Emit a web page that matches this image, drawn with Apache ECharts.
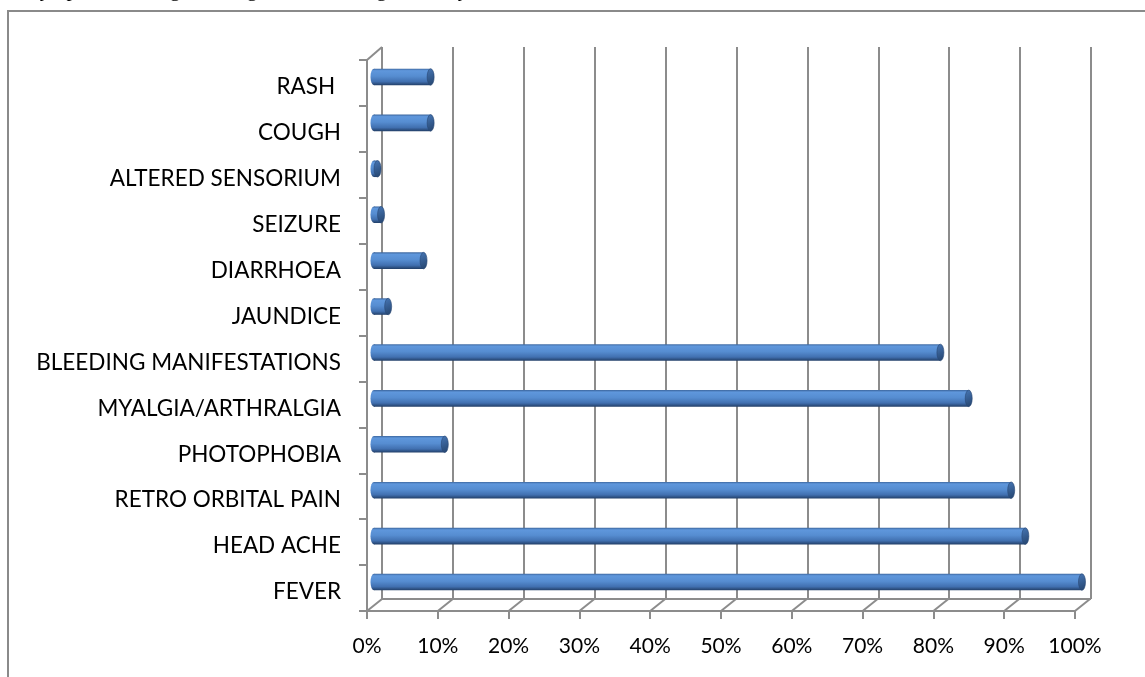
<!DOCTYPE html>
<html>
<head>
<meta charset="utf-8">
<script src="https://cdn.jsdelivr.net/npm/echarts@6/dist/echarts.min.js"></script>
<style>
html,body{margin:0;padding:0;background:#fff;}
#chart{width:1145px;height:677px;}
</style>
</head>
<body>
<div id="chart"></div>
<script>
// ---- data ----
const categories = ['FEVER','HEAD ACHE','RETRO ORBITAL PAIN','PHOTOPHOBIA','MYALGIA/ARTHRALGIA','BLEEDING MANIFESTATIONS','JAUNDICE','DIARRHOEA','SEIZURE','ALTERED SENSORIUM','COUGH','RASH '];
const values = [100, 92, 90, 10, 84, 80, 2, 7, 1, 0.5, 8, 8];
const ticks = [0,10,20,30,40,50,60,70,80,90,100];
const captionText = 'Symptoms among the dengue cases during the study';

const chart = echarts.init(document.getElementById('chart'));
const GRAY = '#8c8c8c';
const DX = 15, DY = 12;

function bodyGrad(){
  return new echarts.graphic.LinearGradient(0,0,0,1,[
    {offset:0,color:'#3d679f'},
    {offset:0.12,color:'#5f97dc'},
    {offset:0.45,color:'#568dd1'},
    {offset:0.78,color:'#4170b0'},
    {offset:1,color:'#223f68'}
  ]);
}
const ELL = 'M0 0.5 A0.5 0.5 0 1 0 1 0.5 A0.5 0.5 0 1 0 0 0.5 Z';

function renderBar(params, api){
  const cat = api.value(1);
  const v = api.value(0);
  const s = api.coord([0, cat]);
  const e = api.coord([v, cat]);
  const h = api.size([0,1])[1]*0.36;
  const rx = 3.5;
  const y0 = s[1]-h/2;
  return {
    type:'group',
    children:[
      {type:'path', shape:{pathData:ELL, x:s[0]-rx, y:y0, width:2*rx, height:h, layout:'cover'}, style:{fill:bodyGrad()}},
      {type:'rect', shape:{x:s[0], y:y0, width:Math.max(e[0]-s[0],0.1), height:h}, style:{fill:bodyGrad()}},
      {type:'path', shape:{pathData:ELL, x:e[0]-rx, y:y0, width:2*rx, height:h, layout:'cover'},
        style:{fill:new echarts.graphic.LinearGradient(0,0,1,1,[{offset:0,color:'#4777b6'},{offset:1,color:'#24436c'}]), stroke:'#284772', lineWidth:0.6}}
    ]
  };
}

function renderConnector(params, api){
  const cs = params.coordSys;
  const x = api.coord([api.value(0), 0])[0];
  const yb = cs.y + cs.height;
  return {type:'line', shape:{x1:x, y1:yb, x2:x+DX, y2:yb-DY}, style:{stroke:GRAY, lineWidth:2}};
}

function renderFrame(params, api){
  const cs = params.coordSys;
  if (api.value(0) !== 0) return null;
  return {type:'line', shape:{x1:cs.x, y1:cs.y, x2:cs.x+DX, y2:cs.y-DY-1}, style:{stroke:GRAY, lineWidth:2}};
}

function renderBackFloor(params, api){
  const cs = params.coordSys;
  if (api.value(0) !== 0) return null;
  return {type:'line', shape:{x1:cs.x, y1:cs.y+cs.height, x2:cs.x+cs.width, y2:cs.y+cs.height}, style:{stroke:GRAY, lineWidth:2}};
}

const option = {
  animation:false,
  backgroundColor:'#fff',
  graphic:[
    {type:'rect', shape:{x:8, y:11, width:1160, height:700}, style:{fill:'none', stroke:'#8a8a8a', lineWidth:2}, z:-10},
    {type:'text', left:28, top:-20, style:{text:captionText, font:'21px "Liberation Serif"', fill:'#000'}}
  ],
  grid:[
    {left:374, right:63, top:54, bottom:72},
    {left:382, right:54, top:47, bottom:78},
    {left:367, right:70, top:60, bottom:66},
    {left:367, right:70, top:64, bottom:62}
  ],
  xAxis:[
    {gridIndex:0, type:'value', min:0, max:100, interval:10, show:false},
    {gridIndex:1, type:'value', min:0, max:100, interval:10,
      axisLine:{show:false}, axisTick:{show:false}, axisLabel:{show:false},
      splitLine:{show:true, lineStyle:{color:GRAY, width:2}}},
    {gridIndex:2, type:'value', min:0, max:100, interval:10,
      axisLine:{show:true, lineStyle:{color:GRAY, width:2}},
      axisTick:{show:true, length:8, lineStyle:{color:GRAY, width:2}},
      axisLabel:{formatter:'{value}%', color:'#000', fontSize:21, fontFamily:'Lato', margin:25},
      splitLine:{show:false}},
    {gridIndex:3, type:'value', min:0, max:100, show:false}
  ],
  yAxis:[
    {gridIndex:0, type:'category', data:categories, show:false},
    {gridIndex:1, type:'category', data:categories, show:false},
    {gridIndex:2, type:'category', data:categories,
      axisLine:{show:true, lineStyle:{color:GRAY, width:2}},
      axisTick:{show:true, length:8, lineStyle:{color:GRAY, width:2}},
      axisLabel:{show:false},
      splitLine:{show:false}},
    {gridIndex:3, type:'category', data:categories,
      axisLine:{show:false}, axisTick:{show:false},
      axisLabel:{color:'#000', fontSize:22.5, fontFamily:'Lato', margin:26},
      splitLine:{show:false}}
  ],
  series:[
    {type:'custom', xAxisIndex:1, yAxisIndex:1, renderItem:renderBackFloor, data:ticks.map(t=>[t,0]), z:1, silent:true},
    {type:'custom', xAxisIndex:2, yAxisIndex:2, renderItem:renderConnector, data:ticks.map(t=>[t,0]), z:1, silent:true},
    {type:'custom', xAxisIndex:2, yAxisIndex:2, renderItem:renderFrame, data:ticks.map(t=>[t,0]), z:1, silent:true},
    {type:'custom', xAxisIndex:0, yAxisIndex:0, renderItem:renderBar,
      data:values.map((v,i)=>[v,i]), z:5, silent:true}
  ]
};
chart.setOption(option);
</script>
</body>
</html>
